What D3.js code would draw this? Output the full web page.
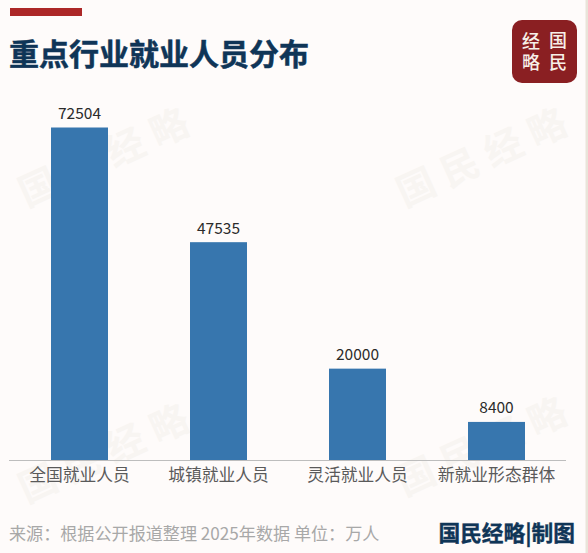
<!DOCTYPE html>
<html><head><meta charset="utf-8">
<script src="https://cdn.jsdelivr.net/npm/d3@7/dist/d3.min.js"></script>
<style>html,body{margin:0;padding:0;background:#fefbfa;overflow:hidden}svg{display:block}
text{font-family:"Noto Sans CJK SC","Noto Sans",sans-serif}</style></head><body>
<script>
const categories = ["全国就业人员","城镇就业人员","灵活就业人员","新就业形态群体"];
const values = [72504,47535,20000,8400];
const title = "重点行业就业人员分布";
const source = "来源：根据公开报道整理 2025年数据 单位：万人";
const credit = "国民经略|制图";
const watermark = "国民经略";
const logoChars = ["经","国","略","民"];
const W=588,H=553;
const svg=d3.select("body").append("svg").attr("width",W).attr("height",H);
svg.append("rect").attr("width",W).attr("height",H).attr("fill","#fefbfa");
svg.append("rect").attr("x",585.5).attr("width",2.5).attr("height",H).attr("fill","#e9e4d9");
// watermarks
[[38,187],[416,187],[38,483],[416,476]].forEach(([cx,cy])=>{
  svg.append("text").attr("transform",`translate(${cx},${cy}) rotate(-24.5)`)
   .attr("x",-19).attr("y",14)
   .attr("font-size",38).attr("font-weight",700).attr("letter-spacing",10).attr("fill","#f8f5f2").text(watermark);
});
// header
svg.append("rect").attr("x",10).attr("y",8).attr("width",72).attr("height",8).attr("fill","#ac2727");
svg.append("text").attr("x",9).attr("y",65).attr("font-size",30).attr("font-weight",700)
  .attr("stroke","#0f3557").attr("stroke-width",0.5).attr("fill","#0f3557").text(title);
// logo
svg.append("rect").attr("x",512).attr("y",20).attr("width",65).attr("height",63).attr("rx",10).attr("fill","#8a1f22");
const logoPos=[[531,47.5],[558,47],[531,69],[558,69]];
logoChars.forEach((c,i)=>svg.append("text").attr("x",logoPos[i][0]).attr("y",logoPos[i][1]).attr("text-anchor","middle")
  .attr("font-size",18).attr("font-weight",500).attr("fill","#f7efe8").text(c));
// chart
const x=d3.scaleBand().domain(categories).range([10,566]).paddingInner(0.59).paddingOuter(0.295);
const y=d3.scaleLinear().domain([0,72504]).range([460.5,127.5]);
svg.append("g").selectAll("rect").data(values).join("rect")
  .attr("x",(d,i)=>x(categories[i])).attr("y",d=>y(d)).attr("width",x.bandwidth()).attr("height",d=>y(0)-y(d)).attr("fill","#3776ae");
svg.append("g").selectAll("text").data(values).join("text")
  .attr("x",(d,i)=>x(categories[i])+x.bandwidth()/2).attr("y",d=>y(d)-8.5).attr("text-anchor","middle")
  .attr("font-family","'Open Sans',sans-serif").attr("font-size",15.5).attr("fill","#2b2b2b").text(d=>d);
const ax=svg.append("g").attr("transform",`translate(0,${y(0)})`).call(d3.axisBottom(x).tickSize(0).tickPadding(9));
ax.select(".domain").attr("stroke","#bdbdbd").attr("stroke-width",1.2).attr("d","M9,0H566");
ax.selectAll("text").attr("font-size",16.8).attr("fill","#5a5a5a").attr("font-family",'"Noto Sans CJK SC",sans-serif');
// footer
svg.append("text").attr("x",9).attr("y",540).attr("font-size",17.1).attr("fill","#a8a8a8").text(source);
svg.append("text").attr("x",575).attr("y",541).attr("text-anchor","end").attr("font-size",21.7).attr("font-weight",700)
  .attr("stroke","#0f3557").attr("stroke-width",0.4).attr("fill","#0f3557").text(credit);
</script></body></html>
